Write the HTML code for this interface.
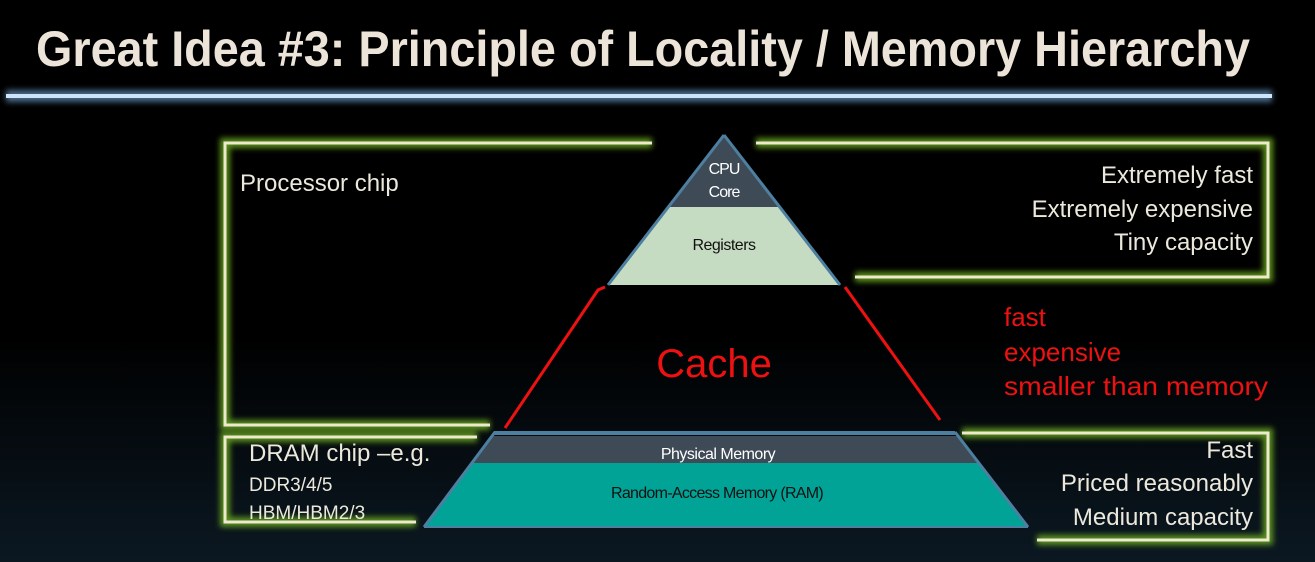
<!DOCTYPE html>
<html><head><style>
html,body{margin:0;padding:0;width:1315px;height:562px;overflow:hidden;background:linear-gradient(#000 0%,#000 60%,#0b1822 100%);}
svg{display:block}
text{font-family:"Liberation Sans","DejaVu Sans",sans-serif;}
</style></head><body>
<svg width="1315" height="562" viewBox="0 0 1315 562" xmlns="http://www.w3.org/2000/svg">
<defs>
<filter id="bglow" x="-5%" y="-200%" width="110%" height="500%">
<feGaussianBlur stdDeviation="3"/>
</filter>
</defs>
<!-- title -->
<text x="36" y="66" font-size="50" font-weight="bold" fill="#ece4d8" textLength="1214" lengthAdjust="spacingAndGlyphs">Great Idea #3: Principle of Locality / Memory Hierarchy</text>
<rect x="6" y="90" width="1266" height="12" fill="#4a6a8a" filter="url(#bglow)"/>
<rect x="6" y="94" width="1266" height="4" fill="#cfe4f8"/>

<!-- green brackets -->
<g fill="none" stroke-width="10" stroke="#6fb020" opacity="0.8" filter="url(#bglow)">
<polyline points="652,143 225,143 225,425 490,425"/>
<polyline points="477,437 225,437 225,522 416,522"/>
<polyline points="756,143 1268,143 1268,277 855,277"/>
<polyline points="962,433 1268,433 1268,540 1037,540"/>
</g>
<g fill="none" stroke-width="3" stroke="#ece9cc">
<polyline points="652,143 225,143 225,425 490,425"/>
<polyline points="477,437 225,437 225,522 416,522"/>
<polyline points="756,143 1268,143 1268,277 855,277"/>
<polyline points="962,433 1268,433 1268,540 1037,540"/>
</g>

<!-- pyramid -->
<polygon points="724,135 779,207 669,207" fill="#3e4a56"/>
<polygon points="669,207 779,207 840,285 608,285" fill="#c6dcc2"/>
<polygon points="492,436 958,436 979,463 472,463" fill="#3e4a56"/>
<polygon points="472,463 979,463 1028,527 424,527" fill="#00a396"/>
<line x1="494" y1="433" x2="955" y2="433" stroke="#4d7fa0" stroke-width="4"/>
<line x1="724" y1="135" x2="608" y2="285" stroke="#4d7fa0" stroke-width="3"/>
<line x1="724" y1="135" x2="840" y2="285" stroke="#4d7fa0" stroke-width="3"/>
<line x1="495" y1="432" x2="424" y2="527" stroke="#4d7fa0" stroke-width="3"/>
<line x1="955" y1="432" x2="1028" y2="527" stroke="#4d7fa0" stroke-width="3"/>
<line x1="424" y1="527" x2="1028" y2="527" stroke="#4d7fa0" stroke-width="2"/>
<!-- red cache edges -->
<polyline points="605,287 598,290 505,428" fill="none" stroke="#ee1111" stroke-width="3"/>
<polyline points="845,287 940,420" fill="none" stroke="#ee1111" stroke-width="3"/>

<text x="724" y="174" font-size="16" fill="#fff" text-anchor="middle" letter-spacing="-1">CPU</text>
<text x="724" y="197" font-size="16" fill="#fff" text-anchor="middle" letter-spacing="-1">Core</text>
<text x="724" y="250" font-size="16" fill="#111" text-anchor="middle" letter-spacing="-0.5">Registers</text>
<text x="714" y="377" font-size="40" fill="#ee1111" text-anchor="middle">Cache</text>
<text x="718" y="459" font-size="16" fill="#fff" text-anchor="middle" letter-spacing="-0.5">Physical Memory</text>
<text x="717" y="498" font-size="16" fill="#111" text-anchor="middle" letter-spacing="-0.7">Random-Access Memory (RAM)</text>

<g fill="#ece9dc" font-size="24">
<text x="240" y="191">Processor chip</text>
<text x="1253" y="183" text-anchor="end">Extremely fast</text>
<text x="1253" y="217" text-anchor="end">Extremely expensive</text>
<text x="1253" y="250" text-anchor="end">Tiny capacity</text>
<text x="249" y="461">DRAM chip –e.g.</text>
<text x="249" y="491" font-size="19">DDR3/4/5</text>
<text x="249" y="519" font-size="19">HBM/HBM2/3</text>
<text x="1253" y="458" text-anchor="end">Fast</text>
<text x="1253" y="491" text-anchor="end">Priced reasonably</text>
<text x="1253" y="525" text-anchor="end">Medium capacity</text>
</g>
<g fill="#ee1111" font-size="26">
<text x="1004" y="326">fast</text>
<text x="1004" y="361">expensive</text>
<text x="1004" y="395" textLength="264" lengthAdjust="spacingAndGlyphs">smaller than memory</text>
</g>
</svg>
</body></html>
